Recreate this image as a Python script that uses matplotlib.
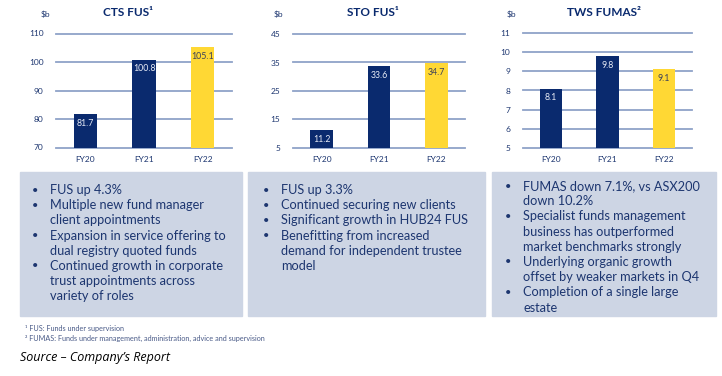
import matplotlib.pyplot as plt
from matplotlib.patches import Rectangle

# Daten
categories = ["FY20", "FY21", "FY22"]
cts_values = [81.7, 100.8, 105.1]
sto_values = [11.2, 33.6, 34.7]
tws_values = [8.1, 9.8, 9.1]

cts_ticks = [70, 80, 90, 100, 110]
sto_ticks = [5, 15, 25, 35, 45]
tws_ticks = [5, 6, 7, 8, 9, 10, 11]

titles = ["CTS FUS¹", "STO FUS¹", "TWS FUMAS²"]

cts_notes = [
    ["FUS up 4.3%"],
    ["Multiple new fund manager", "client appointments"],
    ["Expansion in service offering to", "dual registry quoted funds"],
    ["Continued growth in corporate", "trust appointments across", "variety of roles"],
]
sto_notes = [
    ["FUS up 3.3%"],
    ["Continued securing new clients"],
    ["Significant growth in HUB24 FUS"],
    ["Benefitting from increased", "demand for independent trustee", "model"],
]
tws_notes = [
    ["FUMAS down 7.1%, vs ASX200", "down 10.2%"],
    ["Specialist funds management", "business has outperformed", "market benchmarks strongly"],
    ["Underlying organic growth", "offset by weaker markets in Q4"],
    ["Completion of a single large", "estate"],
]

footnotes = [
    "¹ FUS: Funds under supervision",
    "² FUMAS: Funds under management, administration, advice and supervision",
]
source_text = "Source – Company’s Report"

NAVY = "#0a2a6e"
YELLOW = "#ffd834"
GRID = "#8fa2c8"
BOX = "#cdd5e4"
TEXT = "#1d3670"

W, H = 722, 376
fig = plt.figure(figsize=(W / 100, H / 100), dpi=100)
plt.rcParams["font.family"] = ["Lato", "DejaVu Sans"]


def fx(x):
    return x / W


def fy(y):
    return 1 - y / H


# Achsen (Pixel: links, rechts, oben, unten)
panels = [
    (56, 232, 33.5, 147.5, cts_values, cts_ticks, 128, 45),
    (293, 465, 34, 148, sto_values, sto_ticks, 373, 278),
    (523, 692, 33, 148, tws_values, tws_ticks, 604, 511),
]

for i, (l, r, t, b, vals, ticks, tx, sx) in enumerate(panels):
    ax = fig.add_axes([fx(l), fy(b), (r - l) / W, (b - t) / H])
    colors = [NAVY, NAVY, YELLOW]
    bars = ax.bar(categories, [v - ticks[0] for v in vals], bottom=ticks[0],
                  width=0.4, color=colors, zorder=3)
    ax.set_xlim(-0.5, 2.5)
    ax.set_ylim(ticks[0], ticks[-1])
    ax.set_yticks(ticks)
    for tk in ticks:
        ax.axhline(tk, color=GRID, lw=1.3, zorder=1, clip_on=False)
    for s in ax.spines.values():
        s.set_visible(False)
    ax.tick_params(length=0, labelsize=6, labelcolor=TEXT, pad=9)
    ax.tick_params(axis="x", pad=6)
    for bar, v, c in zip(bars, vals, colors):
        ax.annotate(f"{v}", (bar.get_x() + bar.get_width() / 2, v),
                    xytext=(0, -6.5), textcoords="offset points",
                    ha="center", va="center", fontsize=6.3,
                    color="#e8ecf6" if c == NAVY else "#3a3f5a", zorder=4)
    fig.text(fx(tx), fy(13), titles[i], ha="center", va="center",
             fontsize=8.5, fontweight="bold", color=NAVY)
    fig.text(fx(sx), fy(14), "$b", ha="center", va="center",
             fontsize=6, color=TEXT)

# Textboxen
boxes = [
    (20, 242, cts_notes, 32, 50, 190),
    (248, 485, sto_notes, 263, 281, 190),
    (492, 716, tws_notes, 505, 523, 186),
]
for l, r, notes, bx, txx, y0 in boxes:
    fig.patches.append(Rectangle((fx(l), fy(316)), (r - l) / W, 144 / H,
                                 transform=fig.transFigure, color=BOX,
                                 zorder=0))
    y = y0
    for note in notes:
        fig.text(fx(bx), fy(y), "•", ha="left", va="center", fontsize=8,
                 color=TEXT)
        for line in note:
            fig.text(fx(txx), fy(y), line, ha="left", va="center",
                     fontsize=9.2, color=TEXT)
            y += 15.2

fig.text(fx(25), fy(329), footnotes[0], ha="left", va="center",
         fontsize=5.2, color="#4a5b88")
fig.text(fx(25), fy(338), footnotes[1], ha="left", va="center",
         fontsize=5.2, color="#4a5b88")
fig.text(fx(20), fy(358), source_text, ha="left", va="center",
         fontsize=9, style="italic", color="black",
         family=["Open Sans", "DejaVu Sans"])

plt.savefig("out.png", dpi=100)
